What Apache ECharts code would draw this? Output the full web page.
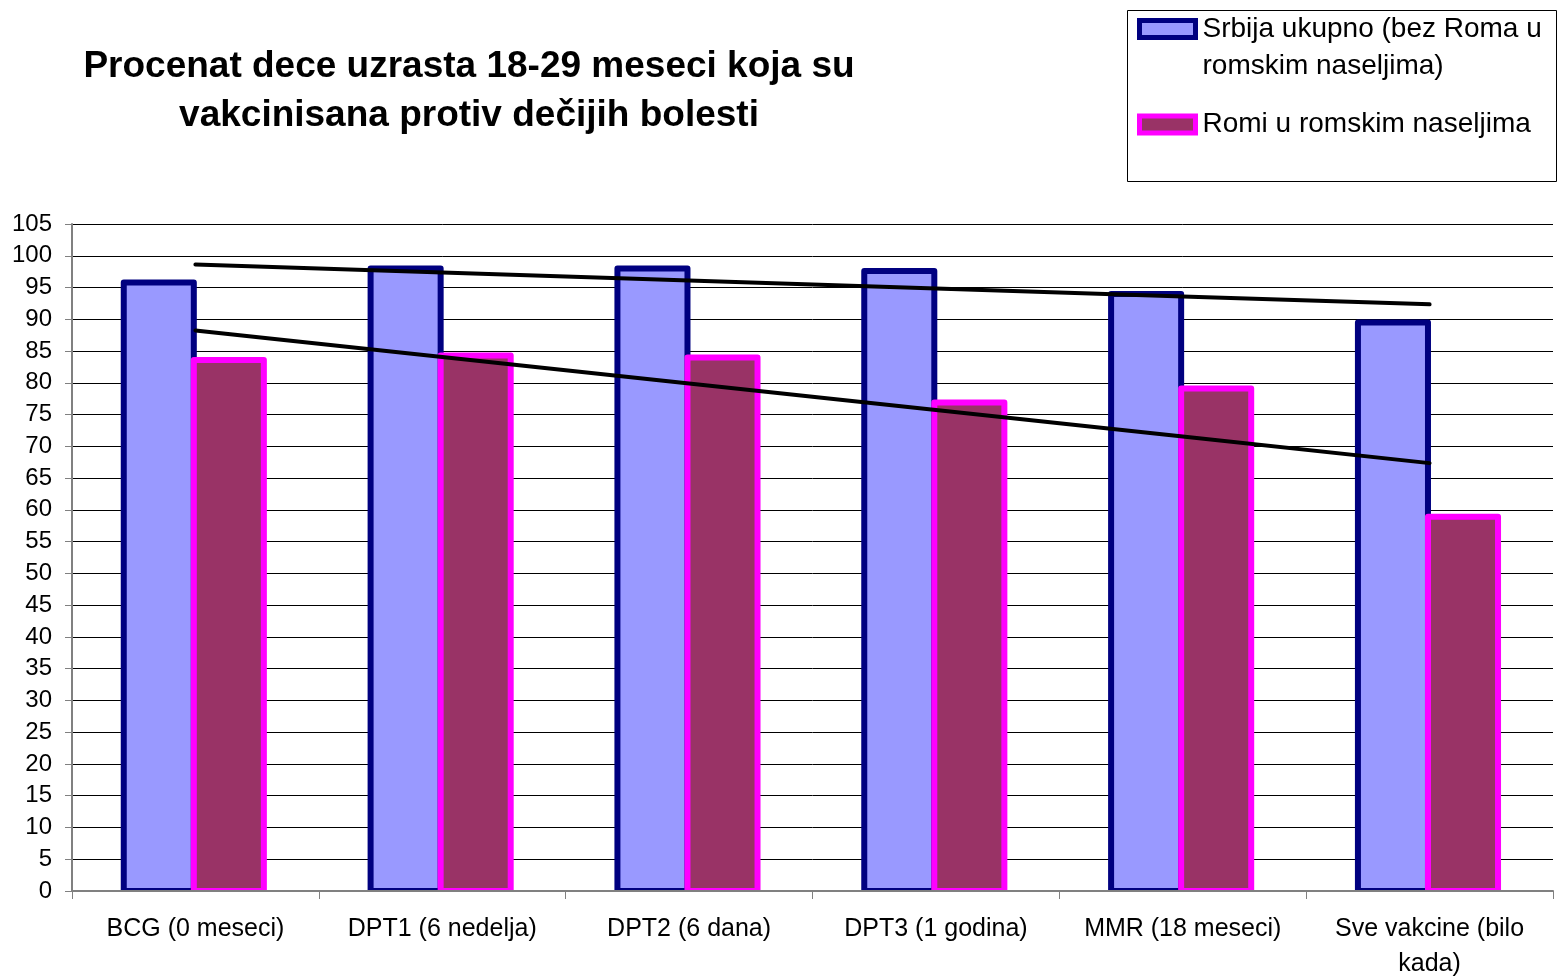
<!DOCTYPE html>
<html>
<head>
<meta charset="utf-8">
<script src="https://cdn.jsdelivr.net/npm/echarts@6/dist/echarts.min.js"></script>
<style>html,body{margin:0;padding:0;background:#fff}#c{width:1560px;height:977px}</style>
</head>
<body>
<div id="c"></div>
<script>
const categories = ['BCG (0 meseci)', 'DPT1 (6 nedelja)', 'DPT2 (6 dana)', 'DPT3 (1 godina)', 'MMR (18 meseci)', 'Sve vakcine (bilo\nkada)'];
const serbia = [95.8, 98.0, 98.0, 97.6, 94.0, 89.5];
const roma = [83.6, 84.3, 84.0, 76.9, 79.1, 58.9];
const yTicks = {min: 0, max: 105, interval: 5};
const seriesNames = ['Srbija ukupno (bez Roma u\nromskim naseljima)', 'Romi u romskim naseljima'];
const titleText = 'Procenat dece uzrasta 18-29 meseci koja su\nvakcinisana protiv dečijih bolesti';

// linear trend (least squares) over category index, as in the original chart
function trend(vals) {
  const n = vals.length;
  let sx = 0, sy = 0, sxx = 0, sxy = 0;
  vals.forEach((v, i) => { sx += i; sy += v; sxx += i * i; sxy += i * v; });
  const b = (n * sxy - sx * sy) / (n * sxx - sx * sx);
  const a = (sy - b * sx) / n;
  return vals.map((v, i) => a + b * i);
}

const FONT = 'Liberation Sans, Arial, sans-serif';
const S_FILL = '#9999FF', S_LINE = '#000080', R_FILL = '#993366', R_LINE = '#FF00FF';

// bar drawn with a border centred on its edge (as in the original spreadsheet chart)
function barSeries(name, values, side, fill, stroke) {
  return {
    name: name, type: 'custom', clip: true,
    data: values.map((v, i) => [i, v]),
    encode: {x: 0, y: 1},
    itemStyle: {color: fill, borderColor: stroke, borderWidth: 6},
    renderItem: function (params, api) {
      const i = api.value(0), v = api.value(1);
      const top = api.coord([i, v]);
      const base = api.coord([i, 0]);
      const band = api.size([1, 0])[0];
      const w = band * 0.2838;
      const cx = top[0] - band * 0.0065;
      const x = side < 0 ? cx - w : cx;
      return {
        type: 'rect',
        shape: {x: x, y: top[1], width: w, height: base[1] - top[1]},
        style: {fill: fill, stroke: stroke, lineWidth: 6, lineJoin: 'round'}
      };
    }
  };
}

const chart = echarts.init(document.getElementById('c'), null, {renderer: 'canvas'});
chart.setOption({
  animation: false,
  backgroundColor: '#fff',
  title: {
    text: titleText,
    left: 464, top: 37, textAlign: 'center',
    textStyle: {fontFamily: FONT, fontSize: 37, fontWeight: 'bold', color: '#000', lineHeight: 49}
  },
  legend: [
    {
      data: [seriesNames[0]], left: 1137, top: -26.5, padding: 0,
      itemWidth: 56, itemHeight: 17, icon: 'rect',
      formatter: function (n) { return '\n' + n; },
      itemStyle: {color: S_FILL, borderColor: S_LINE, borderWidth: 5},
      textStyle: {fontFamily: FONT, fontSize: 28, color: '#000', lineHeight: 37, padding: [0, 0, 0, 2]}
    },
    {
      data: [seriesNames[1]], left: 1137, top: 106, padding: 0,
      itemWidth: 56, itemHeight: 17, icon: 'rect',
      itemStyle: {color: R_FILL, borderColor: R_LINE, borderWidth: 5},
      textStyle: {fontFamily: FONT, fontSize: 28, color: '#000', lineHeight: 37, padding: [0, 0, 0, 2]}
    }
  ],
  graphic: [{
    type: 'rect', left: 1127, top: 10, z: -1,
    shape: {width: 429, height: 171},
    style: {fill: '#fff', stroke: '#000', lineWidth: 1}
  }],
  grid: {left: 72, right: 7, top: 224, bottom: 86, containLabel: false, outerBoundsMode: 'none'},
  xAxis: {
    type: 'category', data: categories, boundaryGap: true, z: 10,
    axisLine: {lineStyle: {color: '#808080', width: 2}},
    axisTick: {show: true, length: 8, lineStyle: {color: '#808080', width: 1}},
    axisLabel: {fontFamily: FONT, fontSize: 25, color: '#000', margin: 21, lineHeight: 35, interval: 0}
  },
  yAxis: {
    type: 'value', min: yTicks.min, max: yTicks.max, interval: yTicks.interval,
    axisLine: {show: true, lineStyle: {color: '#808080', width: 2}},
    axisTick: {show: true, length: 7, lineStyle: {color: '#808080', width: 1}},
    axisLabel: {fontFamily: FONT, fontSize: 24, color: '#000', margin: 20},
    splitLine: {show: true, lineStyle: {color: '#000', width: 1}}
  },
  series: [
    barSeries(seriesNames[0], serbia, -1, S_FILL, S_LINE),
    barSeries(seriesNames[1], roma, 1, R_FILL, R_LINE),
    {
      name: 'trend1', type: 'line', data: trend(serbia), symbol: 'none', z: 5,
      lineStyle: {color: '#000', width: 4, cap: 'round'}, silent: true
    },
    {
      name: 'trend2', type: 'line', data: trend(roma), symbol: 'none', z: 5,
      lineStyle: {color: '#000', width: 4, cap: 'round'}, silent: true
    }
  ]
});
</script>
</body>
</html>
